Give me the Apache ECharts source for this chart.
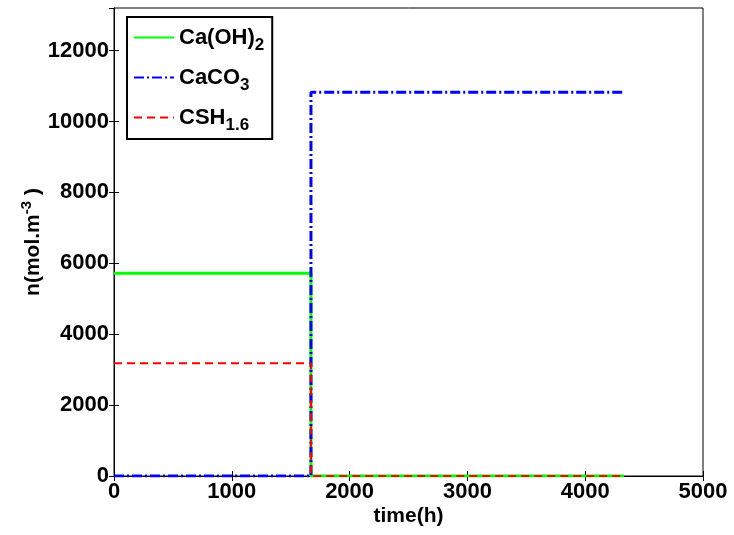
<!DOCTYPE html>
<html>
<head>
<meta charset="utf-8">
<script src="https://cdn.jsdelivr.net/npm/echarts@6/dist/echarts.min.js"></script>
<style>
html, body { margin: 0; padding: 0; background: #fff; }
#main { width: 734px; height: 535px; }
</style>
</head>
<body>
<div id="main"></div>
<script>
// data
var time = [0, 1672, 4330];
var caOH2 = [5720, 0, 0];
var caCO3 = [0, 10825, 10825];
var csh16 = [3180, 0, 0];
var seriesNames = ['Ca(OH)2', 'CaCO3', 'CSH1.6'];
var legendText = {
    'Ca(OH)2': '{m|Ca(OH)}{s|2}',
    'CaCO3': '{m|CaCO}{s|3}',
    'CSH1.6': '{m|CSH}{s|1.6}'
};

var FONT = '"Liberation Sans", Arial, Helvetica, sans-serif';

function pairs(xs, ys) {
    return xs.map(function (x, i) { return [x, ys[i]]; });
}
function plain(v) { return String(v); }

var nameStyle = { color: '#000', fontSize: 21, fontWeight: 'bold', fontFamily: FONT };
var tickLabel = { color: '#000', fontSize: 22, fontWeight: 'bold', fontFamily: FONT, formatter: plain };

var chart = echarts.init(document.getElementById('main'));
chart.setOption({
    animation: false,
    backgroundColor: '#fff',
    grid: {
        left: 114, right: 31, top: 8, bottom: 59,
        show: true, borderColor: '#000', borderWidth: 1
    },
    legend: {
        orient: 'vertical',
        left: 127, top: 17,
        padding: [4, 8, 5, 6],
        itemGap: 7,
        itemWidth: 40,
        itemHeight: 14,
        borderColor: '#000',
        borderWidth: 2,
        borderRadius: 0,
        backgroundColor: '#fff',
        itemStyle: { opacity: 0 },
        data: seriesNames,
        formatter: function (name) { return legendText[name]; },
        textStyle: {
            color: '#000',
            rich: {
                m: { fontSize: 22, fontWeight: 'bold', fontFamily: FONT, color: '#000', lineHeight: 22, verticalAlign: 'top' },
                s: { fontSize: 17, fontWeight: 'bold', fontFamily: FONT, color: '#000', lineHeight: 16, padding: [16, 0, 0, 0] }
            }
        }
    },
    xAxis: [{
        type: 'value',
        min: 0, max: 5000, interval: 1000,
        name: 'time(h)',
        nameLocation: 'middle',
        nameGap: 30,
        nameMoveOverlap: false,
        nameTextStyle: nameStyle,
        axisLine: { show: true, lineStyle: { color: '#000', width: 1 } },
        axisTick: { show: true, inside: true, length: 5, lineStyle: { color: '#000' } },
        axisLabel: Object.assign({ margin: 5 }, tickLabel),
        splitLine: { show: false }
    }, {
        type: 'value',
        position: 'top',
        min: 0, max: 5000, interval: 1000,
        axisLine: { show: false },
        axisTick: { show: true, inside: true, length: 5, lineStyle: { color: '#000' } },
        axisLabel: { show: false },
        splitLine: { show: false }
    }],
    yAxis: [{
        type: 'value',
        min: 0, max: 13200, interval: 2000,
        name: 'n(mol.m{sup|-3} )',
        nameLocation: 'middle',
        nameGap: 70,
        nameMoveOverlap: false,
        nameTextStyle: {
            rich: {
                sup: { fontSize: 15, fontWeight: 'bold', fontFamily: FONT, color: '#000', lineHeight: 16, padding: [0, 0, 14, 0] }
            },
            color: '#000', fontSize: 21, fontWeight: 'bold', fontFamily: FONT
        },
        axisLine: { show: true, lineStyle: { color: '#000', width: 1 } },
        axisTick: { show: true, inside: true, length: 5, lineStyle: { color: '#000' } },
        axisLabel: Object.assign({ margin: 5, showMaxLabel: false }, tickLabel),
        splitLine: { show: false }
    }, {
        type: 'value',
        position: 'right',
        min: 0, max: 13200, interval: 2000,
        axisLine: { show: false },
        axisTick: { show: true, inside: true, length: 5, lineStyle: { color: '#000' } },
        axisLabel: { show: false },
        splitLine: { show: false }
    }],
    series: [{
        name: 'Ca(OH)2',
        type: 'line',
        step: 'end',
        symbol: 'none',
        data: pairs(time, caOH2),
        itemStyle: { color: '#00ff00' },
        lineStyle: { color: '#00ff00', width: 3, type: 'solid' }
    }, {
        name: 'CaCO3',
        type: 'line',
        step: 'end',
        symbol: 'none',
        data: pairs(time, caCO3),
        itemStyle: { color: '#0000ff' },
        lineStyle: { color: '#0000ff', width: 3, type: [10, 3, 2, 3] }
    }, {
        name: 'CSH1.6',
        type: 'line',
        step: 'end',
        symbol: 'none',
        data: pairs(time, csh16),
        itemStyle: { color: '#ff0000' },
        lineStyle: { color: '#ff0000', width: 2, type: [8, 5] }
    }]
});
</script>
</body>
</html>
